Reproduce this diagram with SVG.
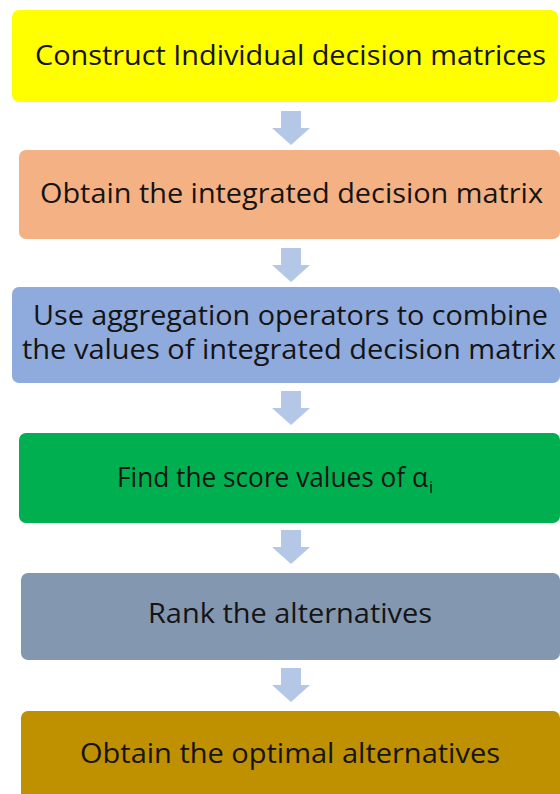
<svg xmlns="http://www.w3.org/2000/svg" width="560" height="794" viewBox="0 0 560 794">
  <style>
    .box { stroke: none; }
    .lbl { font-family: "Open Sans", "Noto Sans", "Liberation Sans", sans-serif; font-size: 27px; fill: #141414; }
    .arrow { fill: #B4C7E7; }
  </style>
  <defs>
    <!-- block arrow pointing down, origin at top centre -->
    <path id="down" d="M-10,0 H10 V17 H19 L0,34 L-19,17 H-10 Z"/>
  </defs>
  <rect width="560" height="794" fill="#ffffff"/>

  <g id="connectors">
    <use href="#down" class="arrow" x="291" y="111"/>
    <use href="#down" class="arrow" x="291" y="248"/>
    <use href="#down" class="arrow" x="291" y="391"/>
    <use href="#down" class="arrow" x="291" y="530"/>
    <use href="#down" class="arrow" x="291" y="668"/>
  </g>

  <g id="step1">
    <rect class="box" x="12" y="10" width="546" height="92" rx="7" fill="#FFFF00"/>
    <text class="lbl" x="35" y="65" textLength="511" lengthAdjust="spacingAndGlyphs">Construct Individual decision matrices</text>
  </g>

  <g id="step2">
    <rect class="box" x="19" y="150" width="541" height="89" rx="7" fill="#F4B183"/>
    <text class="lbl" x="40" y="203" textLength="503" lengthAdjust="spacingAndGlyphs">Obtain the integrated decision matrix</text>
  </g>

  <g id="step3">
    <rect class="box" x="12" y="287" width="548" height="96" rx="7" fill="#8FAADC"/>
    <text class="lbl" x="33" y="325" textLength="515" lengthAdjust="spacingAndGlyphs">Use aggregation operators to combine</text>
    <text class="lbl" x="22" y="359" textLength="534" lengthAdjust="spacingAndGlyphs">the values of integrated decision matrix</text>
  </g>

  <g id="step4">
    <rect class="box" x="19" y="433" width="541" height="90" rx="7" fill="#00B050"/>
    <!-- alpha with subscript i -->
    <text class="lbl" x="117" y="487"><tspan textLength="311" lengthAdjust="spacingAndGlyphs">Find the score values of α</tspan><tspan dx="1" dy="6" font-size="16">i</tspan></text>
  </g>

  <g id="step5">
    <rect class="box" x="21" y="573" width="539" height="87" rx="7" fill="#8497B0"/>
    <text class="lbl" x="148" y="623" textLength="284" lengthAdjust="spacingAndGlyphs">Rank the alternatives</text>
  </g>

  <g id="step6">
    <rect class="box" x="21" y="711" width="539" height="95" rx="7" fill="#BF9000"/>
    <text class="lbl" x="80" y="763" textLength="420" lengthAdjust="spacingAndGlyphs">Obtain the optimal alternatives</text>
  </g>
</svg>
